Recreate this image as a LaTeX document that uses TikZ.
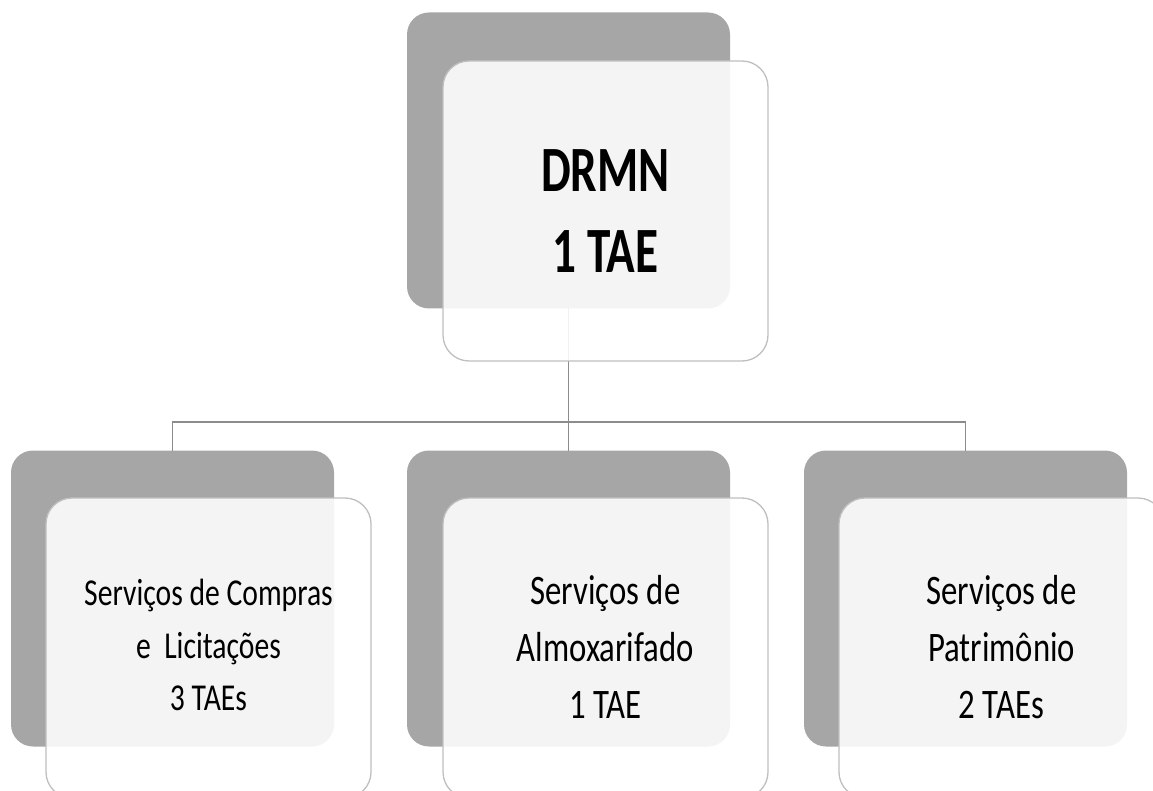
\documentclass[tikz,border=0pt]{standalone}
\usepackage{fontspec}
\setmainfont{Carlito}
\newfontfamily\labelfont[FakeStretch=0.78]{Carlito}
\newfontfamily\headfont[FakeStretch=0.73]{Carlito}
\definecolor{backgray}{HTML}{A6A6A6}
\definecolor{cardline}{HTML}{BFBFBF}
\definecolor{linegray}{HTML}{8C8C8C}
\begin{document}
\begin{tikzpicture}[x=1pt,y=-1pt,
  shade/.style={fill=backgray, rounded corners=22pt, inner sep=0pt, outer sep=0pt,
    minimum width=323pt, minimum height=296pt},
  card/.style={draw=cardline, line width=1.3pt, fill=white, fill opacity=0.88,
    text opacity=1, rounded corners=26pt, inner sep=0pt, outer sep=0pt,
    minimum width=325pt, minimum height=300pt, align=center},
  conn/.style={draw=linegray, line width=1.3pt},
  small/.style={font=\labelfont\fontsize{38}{52.5}\selectfont, text depth=6pt},
  medium/.style={font=\labelfont\fontsize{42}{57}\selectfont, text depth=2pt},
  big/.style={font=\headfont\bfseries\fontsize{64.6}{80.4}\selectfont}]
\useasboundingbox (0,0) rectangle (1153,791);
\clip (0,0) rectangle (1153,791);

% back plates
\node[shade] (topg)   at (568.5,160.5) {};
\node[shade] (leftg)  at (172.5,598.5) {};
\node[shade] (midg)   at (568.5,598.5) {};
\node[shade] (rightg) at (965.5,598.5) {};

% connectors
\coordinate (junc) at (568.5,422);
\draw[conn] (topg.south) -- (junc);
\draw[conn] (leftg.north) |- (junc) -| (rightg.north);
\draw[conn] (junc) -- (midg.north);

% front cards
\node[card,big]    (top)   at (605.5,211) {DRMN\\1 TAE};
\node[card,small]  (left)  at (208.5,648) {Serviços de Compras\\e~~Licitações\\3 TAEs};
\node[card,medium] (mid)   at (605.5,648) {Serviços de\\Almoxarifado\\1 TAE};
\node[card,medium] (right) at (1001.5,648) {Serviços de\\Patrimônio\\2 TAEs};
\end{tikzpicture}
\end{document}
